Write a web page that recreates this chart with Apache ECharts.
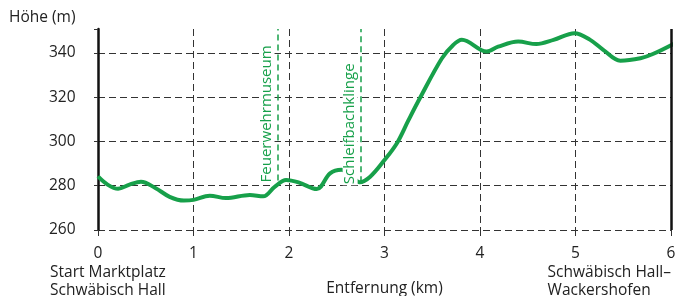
<!DOCTYPE html>
<html>
<head>
<meta charset="utf-8">
<script src="https://cdn.jsdelivr.net/npm/echarts@6/dist/echarts.min.js"></script>
<style>html,body{margin:0;padding:0;background:#fff}#c{width:686px;height:296px}</style>
</head>
<body>
<div id="c"></div>
<script>
// Distance (km)
const distKm = [0, 0.1, 0.21, 0.33, 0.45, 0.6, 0.75, 0.9, 1.0, 1.17, 1.34, 1.59, 1.73, 1.85, 1.97, 2.1, 2.29, 2.43, 2.55, 2.64, 2.74, 2.85, 3.0, 3.13, 3.25, 3.37, 3.6, 3.72, 3.81, 4.07, 4.19, 4.4, 4.59, 4.77, 4.99, 5.15, 5.29, 5.47, 5.68, 5.81, 6.05];
// Elevation (m)
const elevM = [284.2, 280.5, 278.6, 280.5, 281.8, 279, 275, 273.3, 273.6, 275.5, 274.4, 275.8, 275.2, 279.5, 282.6, 281.5, 278.5, 285.6, 287.2, 285, 281.6, 284.1, 291.6, 299.2, 309.5, 319.5, 337.5, 343.6, 345.9, 340.6, 342.8, 345.1, 344, 345.9, 348.9, 346, 341.4, 336.5, 337.6, 339.5, 344.6];
// Point-of-interest markers
const poiNames = ['Feuerwehrmuseum', 'Schleifbachklinge'];
const poiKm = [1.88, 2.75];
const poiBaseM = [282.4, 281.6];
// Axis ticks
const xTicks = [0, 1, 2, 3, 4, 5, 6];
const yTicks = [260, 280, 300, 320, 340];
const yMax = 350.8;

const green = '#17a04a';
const font = '"Open Sans", "DejaVu Sans", sans-serif';

const chart = echarts.init(document.getElementById('c'), null, {renderer: 'canvas'});

const poiLines = poiNames.map((n, i) => [
  {coord: [poiKm[i], poiBaseM[i]], name: n,
   lineStyle: {color: green, type: [6, 4], width: 1.5},
   label: {show: true, formatter: '{b}', position: 'insideStartTop', distance: [-3, 3],
           color: green, fontSize: 15, fontFamily: font, backgroundColor: '#fff', padding: [0, 1, 0, 1]}},
  {coord: [poiKm[i], yMax]}
]);

chart.setOption({
  animation: false,
  grid: {left: 98, right: 15, top: 29, bottom: 66, outerBoundsMode: 'none', containLabel: false},
  xAxis: {
    type: 'value', min: xTicks[0], max: xTicks[xTicks.length - 1], interval: 1,
    name: 'Entfernung (km)', nameLocation: 'middle', nameGap: 51,
    nameTextStyle: {fontFamily: font, fontSize: 15.5, color: '#222'},
    axisLine: {show: false},
    axisTick: {show: true, length: 6, lineStyle: {color: '#333', width: 1}},
    axisLabel: {margin: 16, fontFamily: font, fontSize: 15.5, color: '#222'},
    splitLine: {show: true, showMinLine: false, showMaxLine: false, lineStyle: {color: '#333', type: [7, 4], width: 1}}
  },
  yAxis: {
    type: 'value', min: yTicks[0], max: yMax, interval: 20,
    axisLine: {show: true, lineStyle: {color: '#111', width: 2.5}},
    axisTick: {show: true, length: 4, lineStyle: {color: '#333'}},
    axisLabel: {margin: 49, fontFamily: font, fontSize: 15.5, color: '#222', align: 'left',
                formatter: v => yTicks.includes(v) ? String(v) : ''},
    splitLine: {show: true, showMaxLine: false, lineStyle: {color: '#333', type: [7, 4], width: 1}}
  },
  graphic: [
    {type: 'text', left: 9, top: 10, style: {text: 'Höhe (m)', font: '15.5px ' + font, fill: '#222'}},
    {type: 'text', left: 50, top: 264, style: {text: 'Start Marktplatz\nSchwäbisch Hall', font: '15.5px ' + font, fill: '#222', lineHeight: 17.5}},
    {type: 'text', right: 15, top: 264, style: {text: 'Schwäbisch Hall–\nWackershofen', font: '15.5px ' + font, fill: '#222', lineHeight: 17.5, align: 'right'}}
  ],
  series: [{
    type: 'line',
    data: distKm.map((d, i) => [d, elevM[i]]),
    smooth: 0.35,
    showSymbol: false,
    clip: false,
    lineStyle: {color: green, width: 4},
    markLine: {
      silent: true,
      symbol: ['none', 'none'],
      label: {show: false},
      data: [
        {xAxis: xTicks[xTicks.length - 1], lineStyle: {color: '#111', type: 'solid', width: 2.5}, label: {show: false}},
        ...poiLines
      ]
    }
  }]
});
</script>
</body>
</html>
